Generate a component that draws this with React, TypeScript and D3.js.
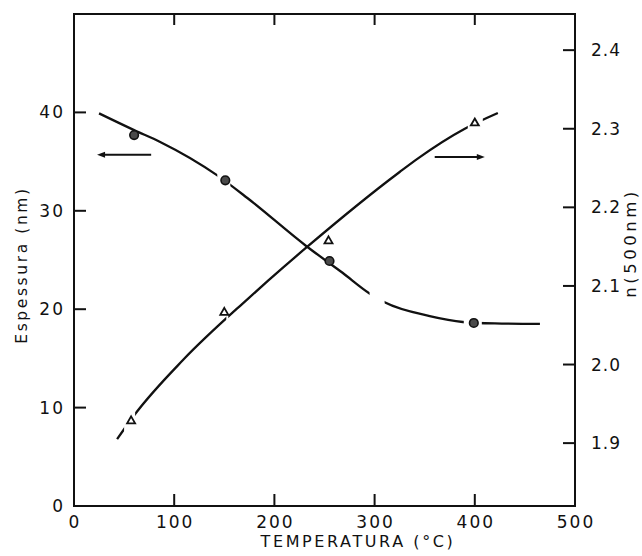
import * as d3 from 'd3';

// thickness (nm) vs temperature, left axis
const thicknessTemps = [60, 151, 255, 399];
const thicknessValues = [37.7, 33.1, 24.9, 18.6];

// refractive index at 500 nm vs temperature, right axis
const indexTemps = [57, 150, 254, 400];
const indexValues = [1.929, 2.067, 2.158, 2.308];

// hand-drawn trend curves
const thicknessCurve: [number, number][] = [
	[25, 39.9], [60, 38.2], [86, 37.0], [143, 33.6], [173, 31.3], [232, 26.4],
	[268, 23.7], [295, 21.6], [310, 20.7], [355, 19.3], [388, 18.7], [420, 18.55], [465, 18.5],
];
const indexCurve: [number, number][] = [
	[43, 1.905], [61, 1.937], [109, 2.006], [173, 2.083], [194, 2.107], [232, 2.149],
	[325, 2.245], [343, 2.262], [390, 2.3], [423, 2.32],
];

// breaks in the printed lines (temperature ranges)
const thicknessGaps: [number, number][] = [[143, 156], [295, 310], [389, 407]];
const indexGaps: [number, number][] = [[50, 61], [152, 154], [393, 408]];

// arrows pointing to the axis each curve belongs to
const thicknessArrow = { from: 77, to: 23, value: 35.7 };
const indexArrow = { from: 360, to: 410, value: 2.264 };

const xTicks = [0, 100, 200, 300, 400, 500];
const leftTicks = [0, 10, 20, 30, 40];
const rightTicks = [1.9, 2.0, 2.1, 2.2, 2.3, 2.4];

const W = 642;
const H = 556;
const INK = '#111';
const FONT = '"DejaVu Sans", sans-serif';

export default function App() {
	const x = d3.scaleLinear().domain([0, 500]).range([74, 575]);
	const yL = d3.scaleLinear().domain([0, 50]).range([506, 14]);
	const yR = d3.scaleLinear().domain([1.82, 2.446]).range([506, 14]);

	const lineL = d3
		.line<[number, number]>()
		.x((d) => x(d[0]))
		.y((d) => yL(d[1]))
		.curve(d3.curveMonotoneX);
	const lineR = d3
		.line<[number, number]>()
		.x((d) => x(d[0]))
		.y((d) => yR(d[1]))
		.curve(d3.curveMonotoneX);

	// visible x-bands between the gaps, used as clip rectangles
	const bands = (gaps: [number, number][]) => {
		const out: [number, number][] = [];
		let start = 0;
		for (const [a, b] of gaps) {
			out.push([start, a]);
			start = b;
		}
		out.push([start, 500]);
		return out;
	};

	const [x0, x1] = x.range();
	const [yb, yt] = yL.range();

	const arrowHead = (tipX: number, tipY: number, dir: number) =>
		`M${tipX},${tipY} L${tipX - dir * 8},${tipY - 3} L${tipX - dir * 8},${tipY + 3} Z`;

	return (
		<svg
			width={W}
			height={H}
			style={{ position: 'absolute', left: 0, top: 0, background: '#fff' }}
			fontFamily={FONT}
		>
			<defs>
				<clipPath id="clip-thickness">
					{bands(thicknessGaps).map(([a, b], i) => (
						<rect key={i} x={x(a)} y={0} width={x(b) - x(a)} height={H} />
					))}
				</clipPath>
				<clipPath id="clip-index">
					{bands(indexGaps).map(([a, b], i) => (
						<rect key={i} x={x(a)} y={0} width={x(b) - x(a)} height={H} />
					))}
				</clipPath>
			</defs>

			{/* frame */}
			<rect x={x0} y={yt} width={x1 - x0} height={yb - yt} fill="none" stroke={INK} strokeWidth={2} />

			{/* ticks, all pointing inward */}
			{xTicks.slice(1, -1).map((t) => (
				<g key={`xt${t}`} stroke={INK} strokeWidth={2}>
					<line x1={x(t)} x2={x(t)} y1={yb} y2={yb - 12} />
					<line x1={x(t)} x2={x(t)} y1={yt} y2={yt + 11} />
				</g>
			))}
			{leftTicks.slice(1).map((t) => (
				<line key={`lt${t}`} x1={x0} x2={x0 + 12} y1={yL(t)} y2={yL(t)} stroke={INK} strokeWidth={2} />
			))}
			{rightTicks.map((t) => (
				<line key={`rt${t}`} x1={x1} x2={x1 - 12} y1={yR(t)} y2={yR(t)} stroke={INK} strokeWidth={2} />
			))}

			{/* tick labels */}
			<g fontSize={17} fill={INK} letterSpacing={2}>
				{xTicks.map((t) => (
					<text key={`xl${t}`} x={x(t) + 1} y={528} textAnchor="middle">
						{t}
					</text>
				))}
				{leftTicks.map((t) => (
					<text key={`ll${t}`} x={65} y={yL(t) + 6} textAnchor="end">
						{t}
					</text>
				))}
				{rightTicks.map((t) => (
					<text key={`rl${t}`} x={591} y={yR(t) + 6} letterSpacing={1}>
						{t.toFixed(1)}
					</text>
				))}
			</g>

			{/* axis titles */}
			<text x={358} y={547} textAnchor="middle" fontSize={16} letterSpacing={2.6} fill={INK}>
				TEMPERATURA (°C)
			</text>
			<text
				transform="translate(27,265) rotate(-90)"
				textAnchor="middle"
				fontSize={15.5}
				letterSpacing={2.6}
				fill={INK}
			>
				Espessura (nm)
			</text>
			<text
				transform="translate(636,243) rotate(-90)"
				textAnchor="middle"
				fontSize={16.5}
				letterSpacing={3.5}
				fill={INK}
			>
				n(500nm)
			</text>

			{/* curves */}
			<path
				d={lineL(thicknessCurve) ?? ''}
				fill="none"
				stroke={INK}
				strokeWidth={2.3}
				clipPath="url(#clip-thickness)"
			/>
			<path
				d={lineR(indexCurve) ?? ''}
				fill="none"
				stroke={INK}
				strokeWidth={2.3}
				clipPath="url(#clip-index)"
			/>

			{/* arrows */}
			<g stroke={INK} strokeWidth={2}>
				<line
					x1={x(thicknessArrow.from)}
					x2={x(thicknessArrow.to) + 6}
					y1={yL(thicknessArrow.value)}
					y2={yL(thicknessArrow.value)}
				/>
				<line
					x1={x(indexArrow.from)}
					x2={x(indexArrow.to) - 6}
					y1={yR(indexArrow.value)}
					y2={yR(indexArrow.value)}
				/>
			</g>
			<path d={arrowHead(x(thicknessArrow.to), yL(thicknessArrow.value), -1)} fill={INK} />
			<path d={arrowHead(x(indexArrow.to), yR(indexArrow.value), 1)} fill={INK} />

			{/* markers */}
			{thicknessTemps.map((t, i) => (
				<circle
					key={`c${t}`}
					cx={x(t)}
					cy={yL(thicknessValues[i])}
					r={4.3}
					fill="#4a4a4a"
					stroke={INK}
					strokeWidth={1.6}
				/>
			))}
			{indexTemps.map((t, i) => {
				const cx = x(t);
				const cy = yR(indexValues[i]);
				return (
					<path
						key={`t${t}`}
						d={`M${cx},${cy - 4} L${cx + 4},${cy + 3} L${cx - 4},${cy + 3} Z`}
						fill="#fff"
						stroke={INK}
						strokeWidth={1.8}
					/>
				);
			})}
		</svg>
	);
}
